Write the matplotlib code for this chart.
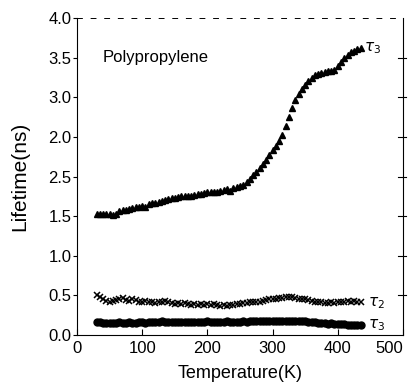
import matplotlib.pyplot as plt

plt.rcParams['font.family'] = ['Liberation Sans', 'DejaVu Sans']

# Temperature grid (K) shared by the three series
temperature = [30, 35, 40, 45, 50, 55, 60, 65, 70, 75, 80, 85, 90, 95, 100,
               105, 110, 115, 120, 125, 130, 135, 140, 145, 150, 155, 160, 165,
               170, 175, 180, 185, 190, 195, 200, 205, 210, 215, 220, 225, 230,
               235, 240, 245, 250, 255, 260, 265, 270, 275, 280, 285, 290, 295,
               300, 305, 310, 315, 320, 325, 330, 335, 340, 345, 350, 355, 360,
               365, 370, 375, 380, 385, 390, 395, 400, 405, 410, 415, 420, 425,
               430, 435]

# long lifetime (triangles), axis position units
tau3_long = [1.53, 1.53, 1.53, 1.53, 1.53, 1.52, 1.53, 1.57, 1.58, 1.58, 1.59,
             1.60, 1.61, 1.62, 1.63, 1.62, 1.65, 1.66, 1.67, 1.68, 1.69, 1.70,
             1.72, 1.73, 1.73, 1.74, 1.75, 1.75, 1.76, 1.76, 1.77, 1.78, 1.78,
             1.79, 1.80, 1.80, 1.81, 1.80, 1.82, 1.83, 1.84, 1.82, 1.86, 1.87,
             1.88, 1.89, 1.93, 1.97, 2.02, 2.06, 2.11, 2.16, 2.21, 2.27, 2.33,
             2.38, 2.45, 2.53, 2.64, 2.75, 2.86, 2.96, 3.04, 3.10, 3.16, 3.21,
             3.25, 3.28, 3.30, 3.31, 3.32, 3.33, 3.33, 3.35, 3.39, 3.44, 3.50,
             3.54, 3.57, 3.59, 3.61, 3.62]

# intermediate lifetime (crosses)
tau2 = [0.50, 0.48, 0.45, 0.43, 0.42, 0.43, 0.44, 0.46, 0.47, 0.44, 0.43, 0.45,
        0.44, 0.42, 0.41, 0.43, 0.42, 0.41, 0.40, 0.42, 0.41, 0.43, 0.41, 0.40,
        0.39, 0.40, 0.39, 0.40, 0.39, 0.38, 0.39, 0.38, 0.39, 0.38, 0.39, 0.38,
        0.39, 0.38, 0.37, 0.38, 0.37, 0.38, 0.38, 0.39, 0.39, 0.40, 0.40, 0.41,
        0.41, 0.42, 0.42, 0.43, 0.44, 0.45, 0.45, 0.46, 0.47, 0.47, 0.48, 0.48,
        0.48, 0.47, 0.46, 0.45, 0.45, 0.44, 0.43, 0.42, 0.42, 0.41, 0.40, 0.40,
        0.41, 0.40, 0.41, 0.42, 0.42, 0.43, 0.42, 0.43, 0.42, 0.41]

# short lifetime (circles)
tau3_short = [0.16, 0.16, 0.15, 0.15, 0.15, 0.15, 0.15, 0.16, 0.15, 0.15, 0.16,
              0.15, 0.15, 0.16, 0.16, 0.15, 0.16, 0.16, 0.16, 0.16, 0.17, 0.16,
              0.16, 0.16, 0.16, 0.16, 0.16, 0.16, 0.16, 0.16, 0.16, 0.16, 0.16,
              0.16, 0.17, 0.16, 0.16, 0.16, 0.16, 0.16, 0.17, 0.16, 0.16, 0.16,
              0.16, 0.17, 0.16, 0.17, 0.17, 0.17, 0.17, 0.17, 0.17, 0.17, 0.17,
              0.17, 0.18, 0.18, 0.18, 0.18, 0.18, 0.17, 0.17, 0.17, 0.17, 0.16,
              0.16, 0.16, 0.15, 0.15, 0.15, 0.14, 0.15, 0.14, 0.14, 0.14, 0.14,
              0.13, 0.13, 0.13, 0.13, 0.13]

y_ticks = [0.0, 0.5, 1.0, 1.5, 2.0, 2.5, 3.0, 3.5, 4.0]
y_tick_labels = ['0.0', '0.5', '1.0', '1.5', '2.5', '2.0', '3.0', '3.5', '4.0']
x_ticks = [0, 100, 200, 300, 400, 500]

fig = plt.figure(figsize=(4.12, 3.85), dpi=100)
ax = fig.add_axes([0.187, 0.130, 0.791, 0.823])

ax.plot(temperature, tau3_long, linestyle='none', marker='^', ms=5,
        color='black')
ax.plot(temperature, tau2, linestyle='none', marker='x', ms=5, mew=1.1,
        color='black')
ax.plot(temperature, tau3_short, linestyle='none', marker='o', ms=5,
        color='black')

ax.set_xlim(0, 500)
ax.set_ylim(0, 4.0)
ax.set_xticks(x_ticks)
ax.set_yticks(y_ticks)
ax.set_yticklabels(y_tick_labels)
ax.tick_params(axis='x', direction='in', length=4, labelsize=12, pad=4)
ax.tick_params(axis='y', direction='out', length=3, labelsize=12, pad=1)
ax.get_xticklabels()[-1].set_ha('right')

ax.spines['top'].set_linestyle((0, (5, 9)))
ax.spines['top'].set_linewidth(0.7)
ax.spines['right'].set_linewidth(0.8)

# ticks along the right edge
for yt in y_ticks[1:-1]:
    ax.plot([492, 504], [yt, yt], color='black', lw=0.8, clip_on=False)

ax.set_xlabel('Temperature(K)', fontsize=13, labelpad=7)
ax.set_ylabel('Lifetime(ns)', fontsize=15, labelpad=14)

ax.text(40, 3.5, 'Polypropylene', fontsize=12, va='center')
ax.text(440, 3.62, r'$\tau_3$', fontsize=11, va='center')
ax.text(447, 0.40, r'$\tau_2$', fontsize=11, va='center')
ax.text(447, 0.12, r'$\tau_3$', fontsize=11, va='center')

fig.savefig('out.png', dpi=100)
